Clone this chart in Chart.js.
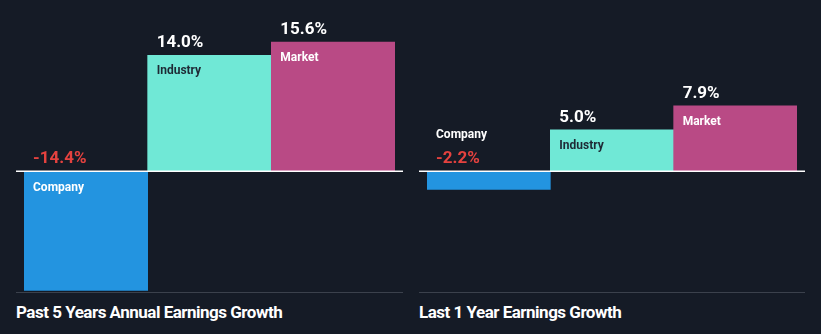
<!DOCTYPE html>
<html>
<head>
<meta charset="utf-8">
<script src="https://cdn.jsdelivr.net/npm/chart.js@4.4.0/dist/chart.umd.min.js"></script>
<style>
  html, body { margin: 0; padding: 0; background: #151b26; }
  #wrap { position: relative; width: 821px; height: 334px; overflow: hidden; }
  .pane { position: absolute; top: 0; height: 292px; }
  .title {
    position: absolute; top: 292px; height: 0;
    border-top: 1px solid #3b414c;
    color: #ffffff; font-family: Roboto, sans-serif; font-weight: 700;
    font-size: 17px; letter-spacing: -0.5px;
  }
  .title span { position: absolute; left: 0; top: 9px; white-space: nowrap; }
</style>
</head>
<body>
<div id="wrap">
  <div class="pane" style="left:0;width:410px"><canvas id="c1"></canvas></div>
  <div class="pane" style="left:410px;width:411px"><canvas id="c2"></canvas></div>
  <div class="title" style="left:16px;width:387px"><span id="t1"></span></div>
  <div class="title" style="left:419px;width:386px"><span id="t2"></span></div>
</div>
<script>
// data
let categories = ['Company', 'Industry', 'Market'],
    fiveYearValues = [-14.4, 14.0, 15.6],
    oneYearValues = [-2.2, 5.0, 7.9],
    titles = ['Past 5 Years Annual Earnings Growth', 'Last 1 Year Earnings Growth'],
    barColors = ['#2394e0', '#70e8d6', '#b94a85'],
    nameColors = ['#ffffff', '#1e2a35', '#ffffff'];

document.getElementById('t1').textContent = titles[0];
document.getElementById('t2').textContent = titles[1];

// zero line + labels
let labelPlugin = {
    id: 'labelPlugin',
    afterDatasetsDraw: function(chart) {
        let ctx = chart.ctx,
            area = chart.chartArea,
            y0 = chart.scales.y.getPixelForValue(0),
            meta = chart.getDatasetMeta(0),
            vals = chart.data.datasets[0].data;

        ctx.save();
        ctx.strokeStyle = '#ffffff';
        ctx.lineWidth = 1.5;
        ctx.beginPath();
        ctx.moveTo(area.left - 8, y0);
        ctx.lineTo(area.right + 8, y0);
        ctx.stroke();

        meta.data.forEach(function(bar, i) {
            let v = vals[i],
                left = bar.x - bar.width / 2 + 9,
                valText = v.toFixed(1) + '%';
            ctx.textAlign = 'left';
            ctx.textBaseline = 'alphabetic';
            if (v >= 0) {
                ctx.font = '700 17px Roboto';
                ctx.fillStyle = '#ffffff';
                ctx.fillText(valText, left, bar.y - 8);
                ctx.font = '700 12px Roboto';
                ctx.fillStyle = nameColors[i];
                ctx.fillText(categories[i], left, bar.y + 19);
            } else {
                ctx.font = '700 17px Roboto';
                ctx.fillStyle = '#e5423f';
                ctx.fillText(valText, left, y0 - 8);
                ctx.font = '700 12px Roboto';
                if (bar.y - y0 > 30) {
                    ctx.fillStyle = nameColors[i];
                    ctx.fillText(categories[i], left, y0 + 20);
                } else {
                    ctx.fillStyle = '#ffffff';
                    ctx.fillText(categories[i], left, y0 - 33);
                }
            }
        });
        ctx.restore();
    }
};

function makeChart(id, values, padLeft, padRight) {
    return new Chart(document.getElementById(id).getContext('2d'), {
        type: 'bar',
        data: {
            labels: categories,
            datasets: [{
                data: values,
                backgroundColor: barColors,
                borderWidth: 0,
                categoryPercentage: 1,
                barPercentage: 1
            }]
        },
        options: {
            responsive: true,
            maintainAspectRatio: false,
            animation: false,
            layout: { padding: { left: padLeft, right: padRight, top: 0, bottom: 0 } },
            plugins: { legend: { display: false }, tooltip: { enabled: false } },
            scales: {
                x: { display: false },
                y: { display: false, min: -14.6, max: 20.7 }
            }
        },
        plugins: [labelPlugin]
    });
}

let chart1 = makeChart('c1', fiveYearValues, 24, 15);
let chart2 = makeChart('c2', oneYearValues, 17, 24);
</script>
</body>
</html>
